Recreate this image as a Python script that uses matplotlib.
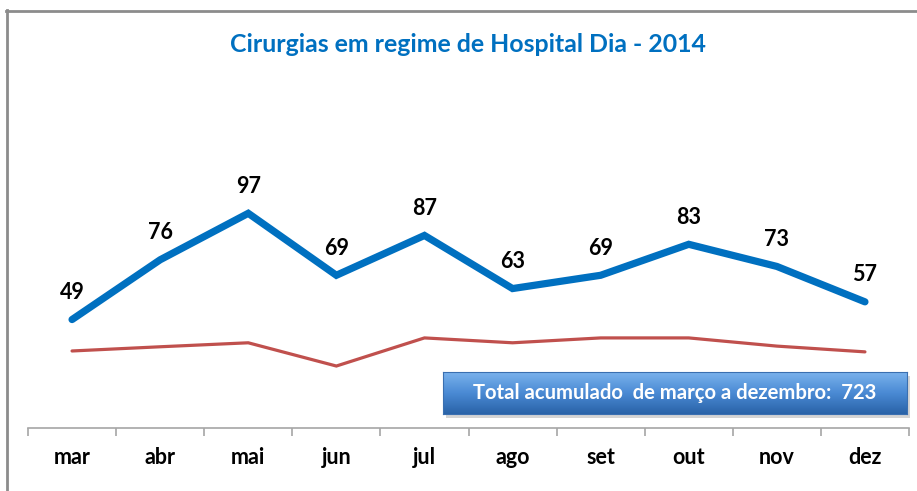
import numpy as np
import matplotlib
matplotlib.use("Agg")
import matplotlib.pyplot as plt
from matplotlib.lines import Line2D
from matplotlib.colors import LinearSegmentedColormap

plt.rcParams['font.family'] = ['Lato', 'DejaVu Sans']

# data
months = ['mar', 'abr', 'mai', 'jun', 'jul', 'ago', 'set', 'out', 'nov', 'dez']
cirurgias = [49, 76, 97, 69, 87, 63, 69, 83, 73, 57]
referencia = [34.8, 36.7, 38.5, 28, 40.7, 38.5, 40.7, 40.7, 37, 34.4]
total_text = "Total acumulado  de março a dezembro:  723"
title = "Cirurgias em regime de Hospital Dia - 2014"

W, H = 917, 491
fig = plt.figure(figsize=(W / 100, H / 100), dpi=100)

# outer frame (clipped on right and bottom like the source)
frame_col = '#8c8c8c'
fig.add_artist(Line2D([6 / W, 1.0], [1 - 10.5 / H, 1 - 10.5 / H], color=frame_col, lw=2, transform=fig.transFigure))
fig.add_artist(Line2D([6.5 / W, 6.5 / W], [1 - 10 / H, 0], color=frame_col, lw=2, transform=fig.transFigure))

ax = fig.add_axes([28 / W, (H - 428) / H, (909 - 28) / W, (428 - 96) / H])
x = np.arange(len(months))

ax.plot(x, referencia, color='#C0504D', lw=2.3, solid_capstyle='round', solid_joinstyle='miter')
ax.plot(x, cirurgias, color='#0070C0', lw=5.2, solid_capstyle='round', solid_joinstyle='miter')

for xi, v in zip(x, cirurgias):
    ax.annotate(str(v), (xi, v), xytext=(0, 19.5), textcoords='offset points',
                ha='center', va='center', fontsize=15.5, fontweight='bold', color='black')

ax.set_xlim(-0.5, len(months) - 0.5)
ax.set_ylim(0, 150)
ax.set_yticks([])
for s in ['left', 'right', 'top']:
    ax.spines[s].set_visible(False)
ax.spines['bottom'].set_color('#a6a6a6')
ax.spines['bottom'].set_linewidth(1.2)

ax.set_xticks(x)
ax.set_xticklabels(months, fontsize=15.5, fontweight='bold')
ax.tick_params(axis='x', which='major', length=0, pad=14)
ax.set_xticks(np.arange(-0.5, len(months)), minor=True)
ax.tick_params(axis='x', which='minor', length=6, color='#a6a6a6', width=1.2)

fig.text(468 / W, 1 - 44 / H, title, ha='center', va='center', fontsize=17.9,
         fontweight='bold', color='#0070C0')

# summary box with gradient and shadow
bx0, bx1, by0, by1 = 443, 907, 372, 414
shadow = fig.add_axes([(bx0 + 3) / W, (H - by1 - 4) / H, (bx1 - bx0) / W, (by1 - by0) / H])
shadow.set_facecolor('#b8b8b8')
shadow.set_xticks([]); shadow.set_yticks([])
for s in shadow.spines.values():
    s.set_visible(False)
shadow.patch.set_alpha(0.6)

box = fig.add_axes([bx0 / W, (H - by1) / H, (bx1 - bx0) / W, (by1 - by0) / H])
grad = np.linspace(0, 1, 64).reshape(-1, 1)
cmap = LinearSegmentedColormap.from_list('boxgrad', ['#7ab2ec', '#4a8ad4', '#2a63a8'])
box.imshow(grad, aspect='auto', cmap=cmap, extent=[0, 1, 0, 1], origin='upper')
box.set_xticks([]); box.set_yticks([])
for s in box.spines.values():
    s.set_color('#3a6fb0')
    s.set_linewidth(0.8)
box.text(0.5, 0.5, total_text, transform=box.transAxes, ha='center', va='center',
         fontsize=14.6, fontweight='bold', color='white')

fig.savefig('out.png', dpi=100)
